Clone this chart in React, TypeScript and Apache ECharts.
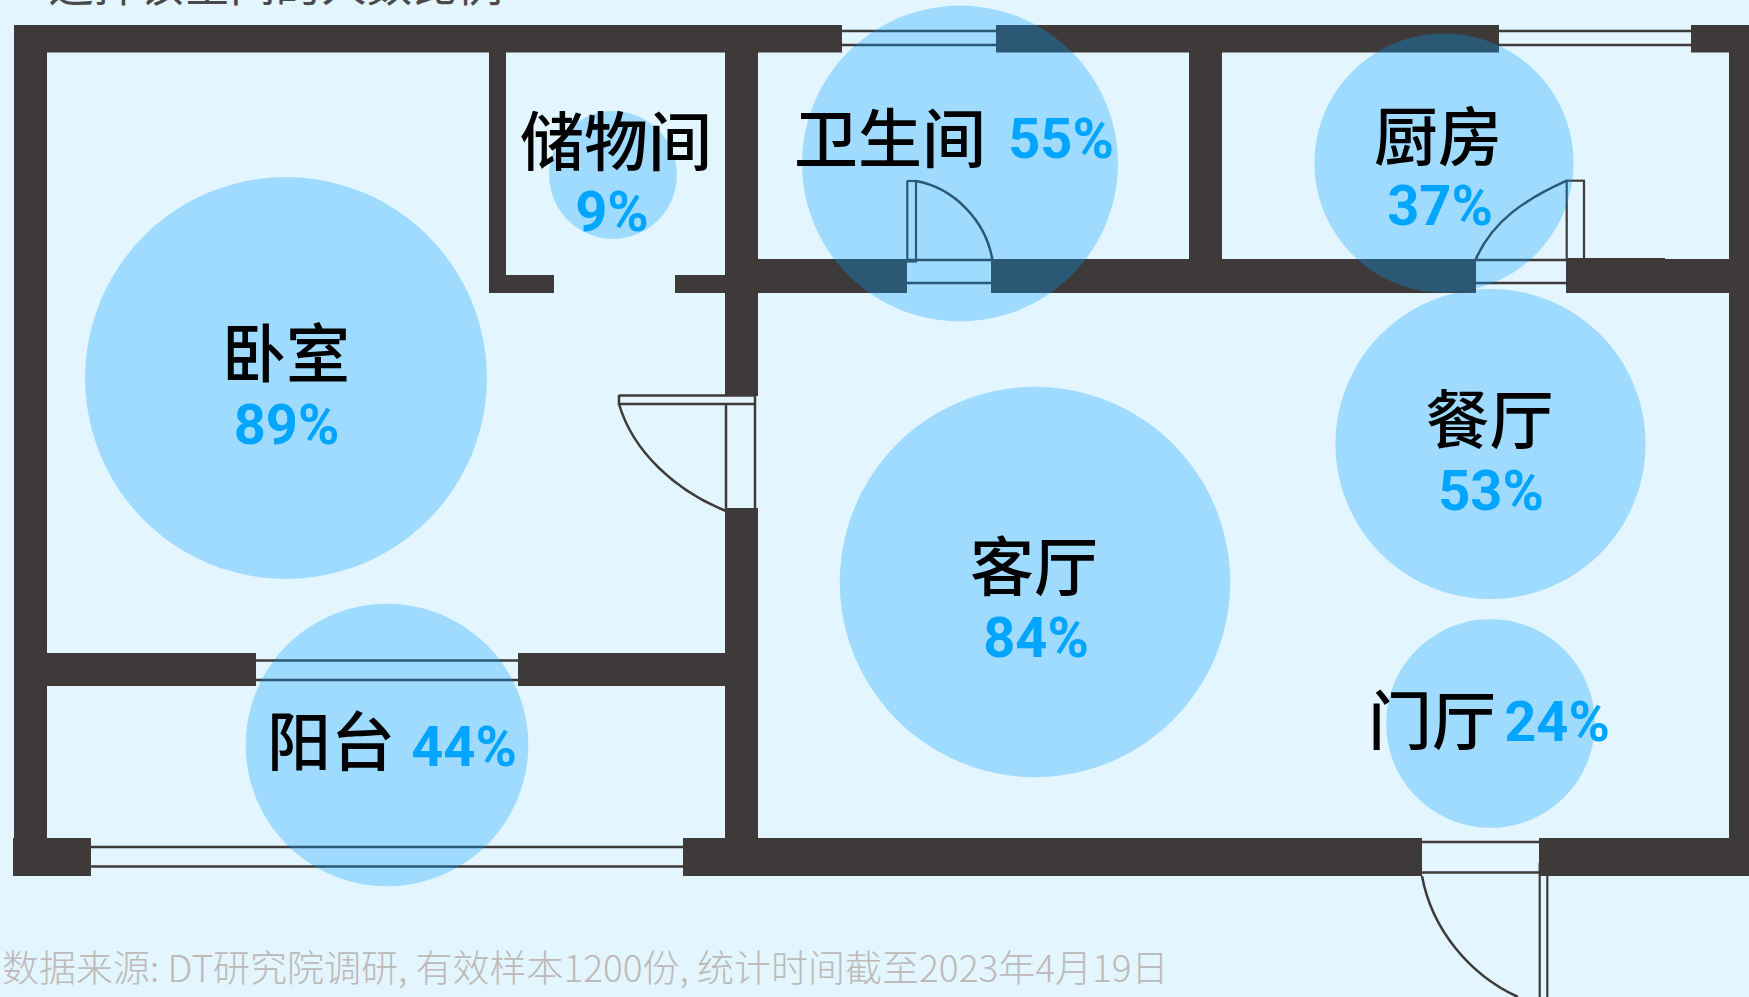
import React, { useEffect, useRef } from "react";
import * as echarts from "echarts";

// ---- data ----
const rooms = ["卧室", "储物间", "卫生间", "厨房", "餐厅", "客厅", "门厅", "阳台"];
const shares = [89, 9, 55, 37, 53, 84, 24, 44];
// placement of each room's bubble on the floor plan (plan units)
const planX = [286, 613, 960, 1444, 1490.5, 1035, 1490.5, 387];
const planY = [378, 175, 163.5, 163, 444, 582, 723.5, 745];
// placement of each room's name and percentage
const nameX = [286, 616, 890, 1438, 1489.5, 1034, 1432, 331];
const nameY = [349, 137, 134, 132, 415, 562, 716, 737];
const shareX = [286.5, 612, 1061, 1440, 1491, 1036, 1557, 464];
const shareY = [425, 212, 139, 206, 491, 638, 722, 747];

const topText = "选择该空间的人数比例";
const sourceText = "数据来源: DT研究院调研, 有效样本1200份, 统计时间截至2023年4月19日";

// ---- floor plan drawing ----
const WALL = "#3e3a39";
const BG = "#e3f5ff";
const W = 1749;
const H = 997;
const RADIUS_PER_ROOT = 21.3;
// x, y, width, height
const walls = [
  [14, 25, 828, 27.5],
  [996, 25, 503, 27.5],
  [1691, 25, 58, 27.5],
  [14, 25, 33, 813],
  [13, 838, 78, 38],
  [683, 838, 739, 38],
  [1539, 838, 210, 38],
  [1729, 25, 20, 851],
  [725, 25, 33, 371],
  [725, 508, 33, 330],
  [489, 52, 17, 241],
  [489, 275, 65, 18],
  [675, 275, 50, 18],
  [758, 259, 149, 34],
  [991, 259, 485, 34],
  [1566, 259, 163, 34],
  [1566, 258, 99, 2],
  [1189, 52, 33, 207],
  [47, 653, 209, 33],
  [518, 653, 207, 33],
];
// x1, y1, x2, y2, width
const frameLines = [
  [842, 31, 996, 31, 2.5],
  [842, 45, 996, 45, 2.5],
  [1499, 31, 1691, 31, 2.5],
  [1499, 45, 1691, 45, 2.5],
  [91, 847, 683, 847, 2.5],
  [91, 866.5, 683, 866.5, 2.5],
  [256, 660.5, 518, 660.5, 2.5],
  [256, 680, 518, 680, 2.5],
  [619, 395.5, 755, 395.5, 2.5],
  [619, 404, 755, 404, 2.5],
  [619, 395, 619, 405, 2.5],
  [726, 404, 726, 511, 2.5],
  [755, 396, 755, 508, 2.5],
  [907, 260, 991, 260, 2.5],
  [907, 283, 991, 283, 2.5],
  [907.3, 181, 907.3, 262, 2.2],
  [916, 181, 916, 262, 2.2],
  [907, 181, 917, 181, 2.2],
  [907, 261.5, 917, 261.5, 2.2],
  [1476, 260, 1566, 260, 2.5],
  [1476, 283, 1566, 283, 2.5],
  [1566.7, 180.7, 1566.7, 259, 2.2],
  [1584, 180.7, 1584, 259, 2.2],
  [1566, 180.7, 1585, 180.7, 2.2],
  [1422, 842, 1539, 842, 2.5],
  [1422, 872.5, 1539, 872.5, 2.5],
  [1539.7, 863, 1539.7, 997, 2.2],
  [1547.3, 876, 1547.3, 997, 2.2],
];
// door swings: x1, y1, cpx1, cpy1, cpx2, cpy2, x2, y2
const swings = [
  [619, 404, 633, 452, 676, 491, 726, 511],
  [916, 181, 955, 188, 986, 222, 992.3, 259.3],
  [1475.7, 259.3, 1493, 220, 1526, 199, 1566.7, 180.7],
  [1422, 876, 1432, 930, 1470, 975, 1518, 997],
];

const planGraphics = () => {
  const out: any[] = [];
  frameLines.forEach(([x1, y1, x2, y2, lw]) =>
    out.push({
      type: "line",
      z: 0,
      silent: true,
      shape: { x1, y1, x2, y2 },
      style: { stroke: WALL, lineWidth: lw },
    })
  );
  swings.forEach(([x1, y1, cpx1, cpy1, cpx2, cpy2, x2, y2]) =>
    out.push({
      type: "bezierCurve",
      z: 0,
      silent: true,
      shape: { x1, y1, x2, y2, cpx1, cpy1, cpx2, cpy2 },
      style: { stroke: WALL, lineWidth: 2.5, fill: "none" },
    })
  );
  walls.forEach(([x, y, width, height]) =>
    out.push({
      type: "rect",
      z: 1,
      silent: true,
      shape: { x, y, width, height },
      style: { fill: WALL },
    })
  );
  out.push({
    type: "text",
    z: 1,
    silent: true,
    x: 48,
    y: 5,
    style: {
      text: topText,
      font: '400 45.5px "Noto Sans CJK SC"',
      fill: "#4a4a4a",
      verticalAlign: "bottom",
    },
  });
  out.push({
    type: "text",
    z: 1,
    silent: true,
    x: 2,
    y: 966,
    style: {
      text: sourceText,
      font: '300 37px "Noto Sans CJK SC"',
      fill: "#bdb9b7",
      verticalAlign: "middle",
    },
  });
  return out;
};

const textSeries = (
  xs: number[],
  ys: number[],
  texts: string[],
  font: any
) => ({
  type: "scatter",
  z: 5,
  silent: true,
  symbolSize: 0,
  itemStyle: { opacity: 1 },
  data: xs.map((x, i) => ({ value: [x, ys[i]], name: texts[i] })),
  label: {
    show: true,
    position: "inside",
    formatter: "{b}",
    opacity: 1,
    ...font,
  },
});

export default function App() {
  const ref = useRef<HTMLDivElement>(null);
  useEffect(() => {
    document.body.style.margin = "0";
    document.body.style.overflow = "hidden";
    const chart = echarts.init(ref.current!, undefined, { renderer: "svg" });
    chart.setOption({
      animation: false,
      backgroundColor: BG,
      grid: { left: 0, top: 0, right: 0, bottom: 0 },
      xAxis: { type: "value", min: 0, max: W, show: false },
      yAxis: { type: "value", min: 0, max: H, inverse: true, show: false },
      graphic: { elements: planGraphics() },
      series: [
        {
          type: "scatter",
          z: 3,
          silent: true,
          data: planX.map((x, i) => [x, planY[i], shares[i]]),
          symbolSize: (v: number[]) => 2 * RADIUS_PER_ROOT * Math.sqrt(v[2]),
          itemStyle: { color: "#00a0ff", opacity: 0.3 },
        },
        textSeries(nameX, nameY, rooms, {
          fontFamily: '"Noto Sans CJK SC"',
          fontSize: 64,
          fontWeight: 500,
          color: "#000000",
        }),
        textSeries(
          shareX,
          shareY,
          shares.map((s) => s + "%"),
          {
            fontFamily: "Roboto",
            fontSize: 56,
            fontWeight: 700,
            color: "#00a5ff",
          }
        ),
      ],
    });
    return () => chart.dispose();
  }, []);
  return <div ref={ref} style={{ width: W, height: H }} />;
}
